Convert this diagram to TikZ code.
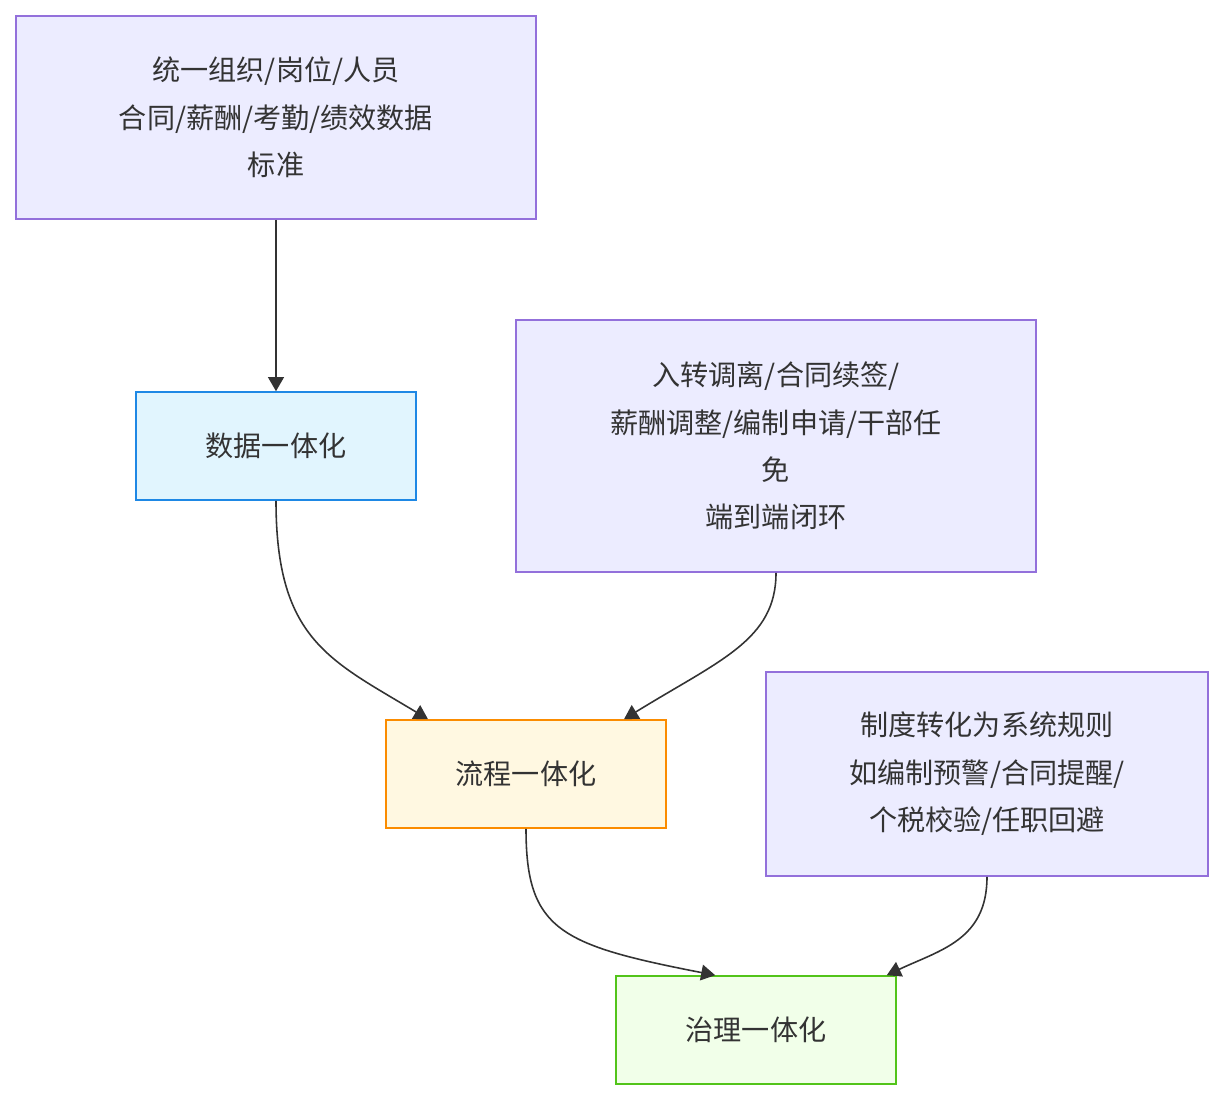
\documentclass[tikz,border=0pt]{standalone}
\usepackage{fontspec}
\newfontfamily\cjk{Noto Sans CJK SC}
\usetikzlibrary{arrows.meta, positioning}
\definecolor{notefill}{HTML}{ECECFF}
\definecolor{noteline}{HTML}{9370DB}
\definecolor{datafill}{HTML}{E1F5FE}
\definecolor{dataline}{HTML}{1E88E5}
\definecolor{flowfill}{HTML}{FFF8E1}
\definecolor{flowline}{HTML}{FB8C00}
\definecolor{govfill}{HTML}{F1FFE9}
\definecolor{govline}{HTML}{52C41A}
\definecolor{txt}{HTML}{333333}
\begin{document}
\begin{tikzpicture}[x=0.02cm, y=-0.02cm, font=\cjk\fontsize{16}{27}\selectfont,
  box/.style={draw, line width=0.9pt, text=txt, align=center, inner sep=0pt},
  note/.style={box, fill=notefill, draw=noteline},
  link/.style={draw=txt, line width=0.9pt, -{Triangle[length=8pt, width=9pt]}}]
  \useasboundingbox (0,0) rectangle (1223,1100);

  % Notes and stages, placed at their centres.
  \node[note, minimum width=10.4cm, minimum height=4.06cm]
    (unify) at (276,117.5) {统一组织/岗位/人员\\合同/薪酬/考勤/绩效数据\\标准};
  \node[box, fill=datafill, draw=dataline, minimum width=5.6cm, minimum height=2.16cm]
    (data) at (276,446) {数据一体化};
  \node[note, minimum width=10.4cm, minimum height=5.04cm]
    (loop) at (776,446) {入转调离/合同续签/\\薪酬调整/编制申请/干部任\\免\\端到端闭环};
  \node[box, fill=flowfill, draw=flowline, minimum width=5.6cm, minimum height=2.16cm]
    (flow) at (526,774) {流程一体化};
  \node[note, minimum width=8.84cm, minimum height=4.08cm]
    (rules) at (987,774) {制度转化为系统规则\\如编制预警/合同提醒/\\个税校验/任职回避};
  \node[box, fill=govfill, draw=govline, minimum width=5.6cm, minimum height=2.16cm]
    (gov) at (756,1030) {治理一体化};

  % Connectors.
  \draw[link] (unify) -- (data);
  \draw[link] (data.south) .. controls (276,640) and (330,660) .. ([xshift=-1.96cm]flow.north);
  \draw[link] (loop.south) .. controls (776,640) and (720,660) .. ([xshift=1.96cm]flow.north);
  \draw[link] (flow.south) .. controls (526,930) and (560,945) .. ([xshift=2cm]gov.north west);
  \draw[link] (rules.south) .. controls (987,940) and (940,950) .. ([xshift=-0.2cm]gov.north east);
\end{tikzpicture}
\end{document}
